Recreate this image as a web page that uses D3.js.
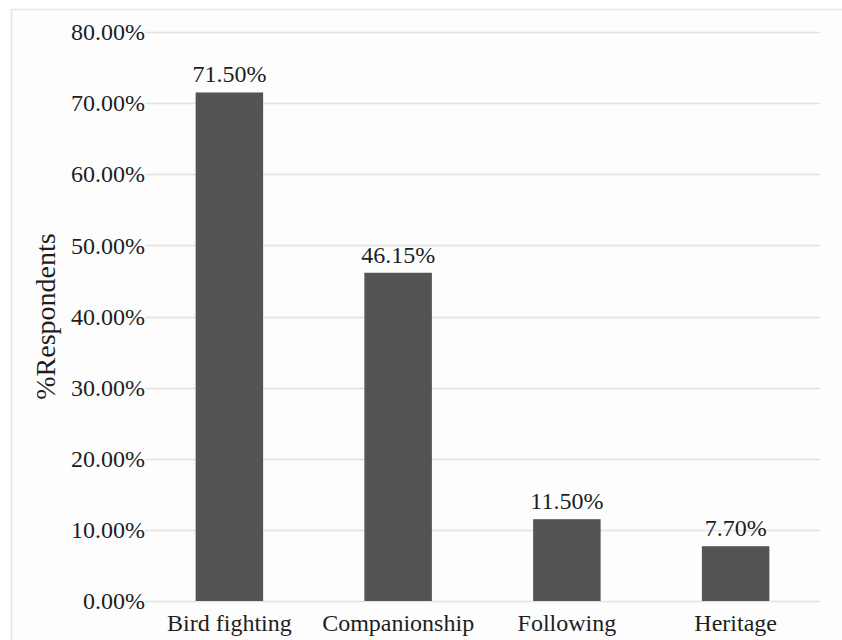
<!DOCTYPE html>
<html>
<head>
<meta charset="utf-8">
<script src="https://cdn.jsdelivr.net/npm/d3@7/dist/d3.min.js"></script>
<style>
  html, body { margin: 0; padding: 0; background: #ffffff; }
  svg { display: block; }
  text { font-family: "Liberation Serif", "Times New Roman", serif; fill: #1e1e1e; }
</style>
</head>
<body>
<svg id="chart" width="842" height="640"></svg>
<script>
// Reasons for keeping birds, share of respondents
const categories = ["Bird fighting", "Companionship", "Following", "Heritage"];
const values = [71.50, 46.15, 11.50, 7.70];
const yTicks = [0, 10, 20, 30, 40, 50, 60, 70, 80];
const yTitle = "%Respondents";

const width = 842, height = 640;
const margin = { top: 32, right: 22, bottom: 39, left: 145 };
const innerW = width - margin.left - margin.right;
const innerH = height - margin.top - margin.bottom;

const svg = d3.select("#chart");

// faint frame around the chart area
svg.append("rect")
  .attr("x", 11.5).attr("y", 9.5)
  .attr("width", 860).attr("height", 660)
  .attr("fill", "#fdfdfd")
  .attr("stroke", "#e4e4e4")
  .attr("stroke-width", 1.5);

const g = svg.append("g").attr("transform", `translate(${margin.left},${margin.top})`);

const x = d3.scaleBand()
  .domain(categories)
  .range([0, innerW])
  .paddingInner(0.6)
  .paddingOuter(0.3);

const y = d3.scaleLinear().domain([0, 80]).range([innerH, 0]);

// gridlines
g.append("g")
  .selectAll("line")
  .data(yTicks)
  .join("line")
  .attr("x1", 0).attr("x2", innerW)
  .attr("y1", d => Math.round(y(d)) + 0.5)
  .attr("y2", d => Math.round(y(d)) + 0.5)
  .attr("stroke", "#e2e2e2")
  .attr("stroke-width", 1.5);

// y axis labels
const yAxis = g.append("g")
  .call(d3.axisLeft(y).tickValues(yTicks).tickSize(0).tickPadding(0)
    .tickFormat(d => d.toFixed(2) + "%"));
yAxis.select(".domain").remove();
yAxis.selectAll("text")
  .attr("font-size", 24)
  .attr("dy", "0.32em")
  .style("fill", "#1e1e1e")
  .style("font-family", '"Liberation Serif", "Times New Roman", serif');

// x axis labels
const xAxis = g.append("g")
  .attr("transform", `translate(0,${innerH})`)
  .call(d3.axisBottom(x).tickSize(0).tickPadding(13));
xAxis.select(".domain").remove();
xAxis.selectAll("text")
  .attr("font-size", 24)
  .style("fill", "#1e1e1e")
  .style("font-family", '"Liberation Serif", "Times New Roman", serif');

// bars
g.selectAll("rect.bar")
  .data(categories)
  .join("rect")
  .attr("class", "bar")
  .attr("x", d => x(d))
  .attr("width", x.bandwidth())
  .attr("y", (d, i) => y(values[i]))
  .attr("height", (d, i) => innerH - y(values[i]))
  .attr("fill", "#545454");

// value labels
g.selectAll("text.val")
  .data(categories)
  .join("text")
  .attr("class", "val")
  .attr("x", d => x(d) + x.bandwidth() / 2)
  .attr("y", (d, i) => y(values[i]) - 10)
  .attr("text-anchor", "middle")
  .attr("font-size", 24)
  .text((d, i) => values[i].toFixed(2) + "%");

// y axis title
svg.append("text")
  .attr("transform", `translate(55,${margin.top + innerH / 2}) rotate(-90)`)
  .attr("text-anchor", "middle")
  .attr("font-size", 28)
  .text(yTitle);
</script>
</body>
</html>
